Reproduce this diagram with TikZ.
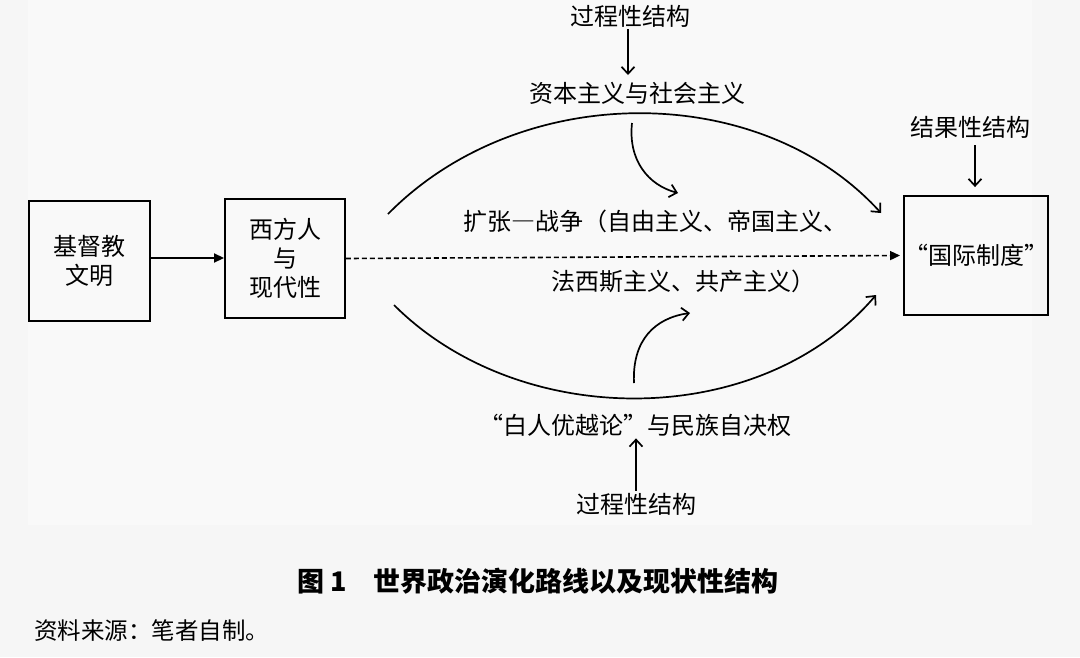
\documentclass[tikz,border=0pt]{standalone}
\usepackage{fontspec}
\setmainfont{Noto Sans CJK SC}
\usetikzlibrary{arrows.meta}
\definecolor{bgc}{HTML}{F6F6F6}
\definecolor{panelc}{HTML}{F9F9F9}
\begin{document}
\begin{tikzpicture}[x=1pt,y=-1pt,
  txt/.style={font=\fontsize{24}{29}\selectfont, inner sep=2pt},
  box/.style={draw, line width=1.9pt, align=center, font=\fontsize{24}{29}\selectfont, inner sep=0pt},
  openarr/.style={line width=1.7pt, -{Straight Barb[length=7pt,width=13pt,line width=1.7pt]}},
  filledarr/.style={line width=1.8pt, -{Triangle[length=10pt,width=9pt]}},
  dashedarr/.style={line width=1.6pt, dash pattern=on 5pt off 3pt, -{Triangle[length=10pt,width=9pt]}}
]
\fill[bgc] (0,0) rectangle (1080,657);
\fill[panelc] (28,0) rectangle (1032,525);
\useasboundingbox (0,0) rectangle (1080,657);

% boxes
\node[box, minimum width=121pt, minimum height=120pt] (b1) at (89.5,261) {基督教\\文明};
\node[box, minimum width=120pt, minimum height=119pt] (b2) at (285,258.5) {西方人\\与\\现代性};
\node[box, minimum width=142pt, minimum height=119pt] (b3) at (976,255.5) {“国际制度”};

% text nodes
\node[txt] (t1) at (630,16) {过程性结构};
\node[txt] (s1) at (637,93) {资本主义与社会主义};
\node[txt] (r1) at (970,127) {结果性结构};
\node[txt] (e1) at (655,221) {扩张―战争（自由主义、帝国主义、};
\node[txt] (e2) at (683,281) {法西斯主义、共产主义）};
\node[txt] (w1) at (635,425) {“白人优越论”与民族自决权};
\node[txt] (t2) at (636,504) {过程性结构};

% caption
\node[font=\fontsize{27}{32}\selectfont\bfseries, inner sep=0pt] (cap) at (538,581) {图 1\quad 世界政治演化路线以及现状性结构};
\node[font=\fontsize{23.5}{28}\selectfont, anchor=west, inner sep=0pt] (src) at (34,631) {资料来源：笔者自制。};

% coordinates for free ends
\coordinate (ua) at (388,214);
\coordinate (ub) at (881,213);
\coordinate (la) at (394,305);
\coordinate (lb) at (876,295);
\coordinate (sa) at (632,123);
\coordinate (sb) at (678,193);
\coordinate (ta) at (634,383);
\coordinate (tb) at (690,313);

% straight arrows
\draw[filledarr] ([yshift=3pt]b1.east) -- ([yshift=3pt]b1.east -| b2.west);
\draw[dashedarr, shorten >=3pt] (b2.east) -- (b3.west);

% vertical arrows
\draw[openarr] (t1.south -| 628,0) -- (628,75);
\draw[openarr] (975,145) -- ([yshift=8pt]b3.north -| 975,0);
\draw[openarr] (t2.north) -- (t2.north |- w1.south);

% big arcs
\draw[openarr] (ua) .. controls (520,80) and (760,80) .. (ub);
\draw[openarr] (la) .. controls (520,431) and (760,431) .. (lb);

% small curved arrows
\draw[openarr] (sa) .. controls (628,160) and (648,185) .. (sb);
\draw[openarr] (ta) .. controls (632,340) and (655,318) .. (tb);
\end{tikzpicture}
\end{document}
